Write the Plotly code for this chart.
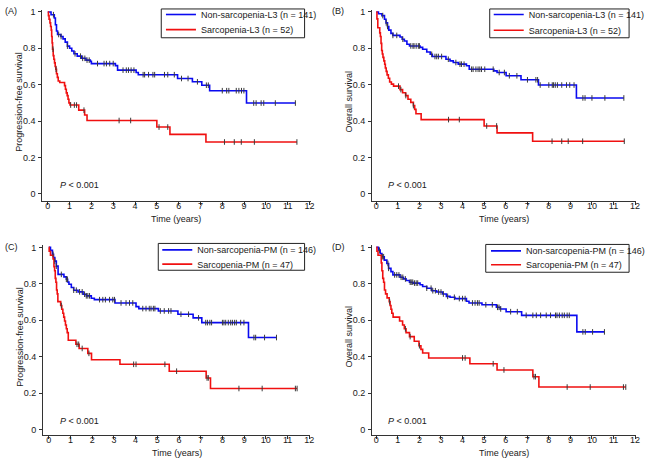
import numpy as np
import plotly.graph_objects as go

# ---------------- data ----------------
x_ticks = list(range(0, 13))
y_ticks = [0, 0.2, 0.4, 0.6, 0.8, 1]
y_ticktext = ["0", "0.2", "0.4", "0.6", "0.8", "1"]

panel_labels = ["(A)", "(B)", "(C)", "(D)"]
y_titles = ["Progression-free survival", "Overall survival",
            "Progression-free survival", "Overall survival"]
x_title = "Time (years)"
p_text = "<i>P</i> < 0.001"
names_l3 = ["Non-sarcopenia-L3 (n = 141)", "Sarcopenia-L3 (n = 52)"]
names_pm = ["Non-sarcopenia-PM (n = 146)", "Sarcopenia-PM (n = 47)"]

# Panel A : PFS, L3
a_non_t = [0.15, 0.3, 0.35, 0.4, 0.45, 0.6, 0.7, 0.8, 0.9, 1.0, 1.1, 1.2, 1.35, 1.55, 1.75, 1.95, 2.0, 3.1, 3.2, 4.05, 4.15, 5.95, 6.63, 7.06, 7.42, 9.11]
a_non_s = [0.985, 0.967, 0.93, 0.895, 0.876, 0.865, 0.852, 0.834, 0.812, 0.8, 0.785, 0.77, 0.757, 0.745, 0.735, 0.728, 0.716, 0.705, 0.68, 0.667, 0.655, 0.634, 0.616, 0.597, 0.567, 0.499]
a_non_end = 11.35
a_non_c = [0.26, 0.5, 0.61, 0.9, 1.25, 1.5, 1.6, 1.7, 1.8, 1.9, 2.28, 2.58, 2.69, 2.84, 3.0, 3.45, 3.6, 3.7, 3.82, 3.95, 4.37, 4.44, 4.62, 4.82, 4.9, 5.35, 5.5, 5.8, 6.13, 6.43, 6.86, 7.27, 7.36, 8.0, 8.2, 8.3, 8.64, 8.76, 8.88, 8.99, 9.44, 9.55, 9.78, 9.9, 10.43, 11.35]

a_sar_t = [0.03, 0.06, 0.1, 0.13, 0.16, 0.18, 0.2, 0.22, 0.25, 0.28, 0.31, 0.34, 0.37, 0.4, 0.44, 0.48, 0.55, 0.77, 0.81, 0.85, 0.89, 0.93, 0.97, 1.02, 1.42, 1.69, 1.8, 5.0, 5.6, 7.25]
a_sar_s = [0.98, 0.96, 0.94, 0.92, 0.9, 0.865, 0.83, 0.795, 0.76, 0.74, 0.72, 0.70, 0.685, 0.66, 0.64, 0.62, 0.612, 0.595, 0.575, 0.555, 0.54, 0.52, 0.50, 0.488, 0.46, 0.433, 0.403, 0.367, 0.327, 0.285]
a_sar_end = 11.42
a_sar_c = [0.24, 0.38, 1.05, 1.22, 1.32, 1.66, 3.27, 3.8, 5.1, 5.5, 8.1, 8.55, 8.87, 9.47, 11.42]

# Panel B : OS, L3
b_non_t = [0.1, 0.26, 0.38, 0.45, 0.52, 0.58, 0.68, 0.77, 1.1, 1.2, 1.3, 1.42, 1.54, 2.03, 2.15, 2.34, 2.5, 2.6, 3.23, 3.42, 3.57, 3.8, 4.18, 4.31, 5.45, 5.6, 6.02, 6.71, 7.52, 9.28]
b_non_s = [0.99, 0.98, 0.96, 0.94, 0.92, 0.9, 0.882, 0.871, 0.862, 0.85, 0.84, 0.822, 0.813, 0.805, 0.795, 0.78, 0.767, 0.755, 0.74, 0.731, 0.722, 0.713, 0.704, 0.685, 0.676, 0.667, 0.649, 0.627, 0.598, 0.527]
b_non_end = 11.48
b_non_c = [0.3, 0.46, 0.52, 0.77, 0.95, 1.23, 1.6, 1.7, 1.75, 1.85, 1.95, 2.0, 2.57, 2.72, 2.8, 2.88, 3.03, 3.34, 3.69, 3.88, 3.95, 4.07, 4.42, 4.49, 4.62, 4.72, 4.8, 4.88, 5.03, 5.42, 5.7, 5.94, 6.17, 6.52, 7.01, 7.4, 7.48, 7.6, 8.0, 8.16, 8.22, 8.3, 8.4, 8.6, 8.82, 8.97, 9.17, 9.58, 9.68, 10.0, 10.6, 11.48]

b_sar_t = [0.03, 0.07, 0.16, 0.19, 0.22, 0.25, 0.28, 0.31, 0.35, 0.39, 0.42, 0.46, 0.5, 0.56, 0.62, 0.7, 0.8, 1.1, 1.22, 1.36, 1.47, 1.6, 1.72, 1.78, 1.84, 2.08, 5.0, 5.6, 7.25]
b_sar_s = [0.962, 0.913, 0.885, 0.865, 0.827, 0.788, 0.769, 0.75, 0.731, 0.712, 0.692, 0.673, 0.654, 0.635, 0.615, 0.603, 0.592, 0.573, 0.556, 0.54, 0.52, 0.503, 0.485, 0.464, 0.44, 0.408, 0.373, 0.335, 0.289]
b_sar_end = 11.5
b_sar_c = [1.03, 1.14, 1.37, 1.72, 3.35, 3.85, 5.12, 5.58, 8.15, 8.6, 8.9, 9.57, 11.5]

# Panel C : PFS, PM
c_non_t = [0.08, 0.17, 0.22, 0.28, 0.35, 0.43, 0.7, 0.81, 0.87, 0.93, 1.04, 1.15, 1.35, 1.58, 1.73, 1.96, 2.1, 3.05, 4.02, 4.15, 5.05, 5.95, 6.65, 7.05, 9.2]
c_non_s = [0.984, 0.962, 0.945, 0.925, 0.897, 0.852, 0.838, 0.825, 0.81, 0.798, 0.78, 0.765, 0.756, 0.743, 0.734, 0.721, 0.713, 0.695, 0.675, 0.664, 0.651, 0.633, 0.613, 0.587, 0.505]
c_non_end = 10.49
c_non_c = [0.2, 0.28, 0.35, 0.58, 0.81, 0.86, 1.15, 1.27, 1.42, 1.54, 1.65, 1.73, 1.8, 1.88, 2.34, 2.49, 2.61, 2.8, 2.95, 3.03, 3.33, 3.56, 3.72, 3.87, 4.33, 4.48, 4.63, 4.71, 4.82, 4.89, 5.14, 5.32, 5.52, 5.63, 6.09, 6.44, 6.9, 7.23, 7.31, 7.42, 7.5, 8.0, 8.07, 8.15, 8.27, 8.38, 8.46, 8.56, 8.64, 8.84, 8.99, 9.45, 9.53, 9.94, 10.49]

c_sar_t = [0.02, 0.08, 0.2, 0.24, 0.27, 0.3, 0.33, 0.36, 0.39, 0.42, 0.55, 0.6, 0.65, 0.69, 0.73, 0.77, 0.81, 0.85, 0.9, 1.25, 1.4, 1.8, 1.97, 3.28, 5.55, 7.25, 7.45]
c_sar_s = [0.979, 0.957, 0.936, 0.894, 0.872, 0.830, 0.809, 0.766, 0.745, 0.702, 0.681, 0.660, 0.638, 0.617, 0.596, 0.574, 0.553, 0.532, 0.49, 0.468, 0.445, 0.418, 0.383, 0.358, 0.32, 0.283, 0.225]
c_sar_end = 11.44
c_sar_c = [0.58, 1.3, 1.38, 1.54, 1.85, 3.91, 4.02, 5.35, 5.89, 7.29, 7.35, 8.76, 9.83, 11.36, 11.44]

# Panel D : OS, PM
d_non_t = [0.1, 0.18, 0.26, 0.37, 0.49, 0.57, 0.68, 0.77, 1.1, 1.26, 1.38, 1.54, 1.7, 2.03, 2.15, 2.34, 2.57, 2.8, 3.08, 3.25, 3.42, 3.65, 4.18, 4.3, 4.9, 5.57, 5.75, 6.02, 6.74, 9.3]
d_non_s = [0.985, 0.967, 0.949, 0.93, 0.912, 0.885, 0.867, 0.849, 0.836, 0.827, 0.818, 0.809, 0.804, 0.795, 0.785, 0.776, 0.762, 0.755, 0.744, 0.731, 0.726, 0.719, 0.704, 0.695, 0.685, 0.671, 0.662, 0.647, 0.627, 0.536]
d_non_end = 10.58
d_non_c = [0.15, 0.28, 0.34, 0.54, 0.57, 0.85, 0.95, 1.05, 1.15, 1.23, 1.35, 1.57, 1.62, 1.69, 1.77, 1.85, 1.92, 2.34, 2.54, 2.62, 2.74, 2.89, 3.0, 3.11, 3.31, 3.62, 3.85, 4.0, 4.12, 4.46, 4.58, 4.69, 4.77, 5.08, 5.38, 5.62, 5.69, 5.77, 6.23, 6.54, 6.95, 7.26, 7.42, 7.62, 7.88, 8.08, 8.31, 8.38, 8.49, 8.62, 8.72, 8.85, 8.95, 9.58, 9.69, 10.03, 10.58]

d_sar_t = [0.03, 0.08, 0.23, 0.26, 0.3, 0.34, 0.38, 0.43, 0.5, 0.6, 0.64, 0.68, 0.72, 0.78, 1.08, 1.22, 1.3, 1.38, 1.54, 1.76, 1.98, 2.07, 2.15, 2.43, 4.34, 5.6, 7.26, 7.54]
d_sar_s = [0.979, 0.957, 0.915, 0.872, 0.83, 0.809, 0.766, 0.745, 0.723, 0.702, 0.681, 0.66, 0.638, 0.617, 0.596, 0.574, 0.553, 0.532, 0.51, 0.485, 0.46, 0.44, 0.42, 0.393, 0.361, 0.327, 0.29, 0.233]
d_sar_end = 11.57
d_sar_c = [0.62, 1.35, 1.57, 2.0, 4.0, 4.12, 5.42, 5.92, 7.31, 7.38, 8.85, 9.92, 11.46, 11.57]

# ---------------- layout geometry ----------------
W, H = 650, 462
BLUE = "#0a0af0"
RED = "#f01010"
AX = "#333333"
TXT = "#1a1a1a"
FONT = "Liberation Sans, Arial, sans-serif"
FS = 9

# pixel boxes of plot areas: (left, right, top, bottom)
boxes = [(42.5, 312.1, 7, 199), (373.7, 639.1, 7, 199),
         (43.3, 311.8, 244, 435.3), (373.7, 639.1, 244, 435.3)]
xranges = [[-0.25, 12.05], [-0.2, 12.05], [-0.26, 12.05], [-0.2, 12.05]]
yranges = [[-0.038, 1.011], [-0.038, 1.011], [-0.033, 1.011], [-0.033, 1.011]]
legend_boxes = [(162, 306, 6, 35), (492, 632, 6, 35), (159, 306, 242, 269), (488, 632, 243, 271)]
legend_x = [161.7, 491, 158, 488.3]
legend_rows = [(11.2, 26.8), (11.2, 27.5), (248.5, 262.8), (249.5, 263.5)]
p_pos = [(0.46, 0.05), (0.46, 0.05), (0.42, 0.045), (0.46, 0.045)]

panels = [
    [(a_non_t, a_non_s, a_non_end, a_non_c, BLUE, names_l3[0]),
     (a_sar_t, a_sar_s, a_sar_end, a_sar_c, RED, names_l3[1])],
    [(b_non_t, b_non_s, b_non_end, b_non_c, BLUE, names_l3[0]),
     (b_sar_t, b_sar_s, b_sar_end, b_sar_c, RED, names_l3[1])],
    [(c_non_t, c_non_s, c_non_end, c_non_c, BLUE, names_pm[0]),
     (c_sar_t, c_sar_s, c_sar_end, c_sar_c, RED, names_pm[1])],
    [(d_non_t, d_non_s, d_non_end, d_non_c, BLUE, names_pm[0]),
     (d_sar_t, d_sar_s, d_sar_end, d_sar_c, RED, names_pm[1])],
]

fig = go.Figure()

def surv_at(times, surv, t):
    tt = np.array(times)
    ss = np.array([1.0] + list(surv))
    idx = np.searchsorted(tt, np.array(t), side="right")
    return ss[idx]

layout = dict(width=W, height=H, margin=dict(l=0, r=0, t=0, b=0),
              paper_bgcolor="white", plot_bgcolor="white",
              font=dict(family=FONT, size=FS, color=TXT))

for i, groups in enumerate(panels):
    xa = "x" if i == 0 else f"x{i+1}"
    ya = "y" if i == 0 else f"y{i+1}"
    for k, (t, s, end, cens, col, name) in enumerate(groups):
        lid = "legend" if (2 * i + k) == 0 else f"legend{2 * i + k + 1}"
        xs = [0] + list(t) + [end]
        ys = [1.0] + list(s) + [s[-1]]
        fig.add_trace(go.Scatter(
            x=xs, y=ys, mode="lines", line=dict(color=col, width=1.6, shape="hv"),
            name=name, xaxis=xa, yaxis=ya, legend=lid, hoverinfo="skip"))
        layout[lid] = dict(x=legend_x[i] / W, y=1 - legend_rows[i][k] / H,
                           xanchor="left", yanchor="middle",
                           borderwidth=0, bgcolor="rgba(0,0,0,0)",
                           font=dict(family=FONT, size=FS, color=TXT),
                           itemwidth=30, tracegroupgap=0)
    for (t, s, end, cens, col, name) in groups:
        fig.add_trace(go.Scatter(
            x=cens, y=surv_at(t, s, cens), mode="markers",
            marker=dict(symbol="line-ns", size=4, line=dict(width=1, color="#3a3a3a")),
            showlegend=False, xaxis=xa, yaxis=ya, hoverinfo="skip"))

annotations = []
shapes = []
for i, (l, r, tp, bt) in enumerate(boxes):
    sfx = "" if i == 0 else str(i + 1)
    common = dict(showline=True, linecolor=AX, linewidth=1, ticks="outside",
                  ticklen=3, tickcolor=AX, tickwidth=1, showgrid=False,
                  zeroline=False, tickfont=dict(family=FONT, size=FS, color=TXT))
    layout["xaxis" + sfx] = dict(common, domain=[l / W, r / W], range=xranges[i],
                                 tickvals=x_ticks, anchor="y" + sfx, ticklabelstandoff=-7)
    layout["yaxis" + sfx] = dict(common, domain=[1 - bt / H, 1 - tp / H], range=yranges[i],
                                 tickvals=y_ticks, ticktext=y_ticktext, anchor="x" + sfx,
                                 ticklabelstandoff=1)
    # legend frame
    bl, br, btp, bbt = legend_boxes[i]
    shapes.append(dict(type="rect", xref="paper", yref="paper",
                       x0=bl / W, x1=br / W, y0=1 - bbt / H, y1=1 - btp / H,
                       line=dict(color="#222222", width=1), fillcolor="rgba(0,0,0,0)"))
    # panel letter
    px0 = 3 if i in (0, 2) else 332
    py0 = 8 if i < 2 else 246
    annotations.append(dict(x=px0 / W, y=1 - py0 / H, xref="paper", yref="paper",
                            text=panel_labels[i], showarrow=False, xanchor="left",
                            yanchor="middle", font=dict(size=FS)))
    # y title
    annotations.append(dict(x=(l - 23) / W, y=1 - ((tp + bt) / 2 - 4) / H, xref="paper", yref="paper",
                            text=y_titles[i], showarrow=False, textangle=-90,
                            xanchor="center", yanchor="middle", font=dict(size=FS)))
    # x title
    annotations.append(dict(x=(l + r) / 2 / W, y=1 - (bt + 18) / H, xref="paper", yref="paper",
                            text=x_title, showarrow=False, xanchor="center",
                            yanchor="middle", font=dict(size=FS)))
    # p value
    annotations.append(dict(x=p_pos[i][0], y=p_pos[i][1], xref=("x" + sfx), yref=("y" + sfx),
                            text=p_text, showarrow=False, xanchor="left",
                            yanchor="middle", font=dict(size=FS)))

layout["annotations"] = annotations
layout["shapes"] = shapes
fig.update_layout(**layout)
fig.write_html("out.html", config={"displayModeBar": False},
               post_script="document.body.style.margin='0px';document.body.style.overflow='hidden';")
